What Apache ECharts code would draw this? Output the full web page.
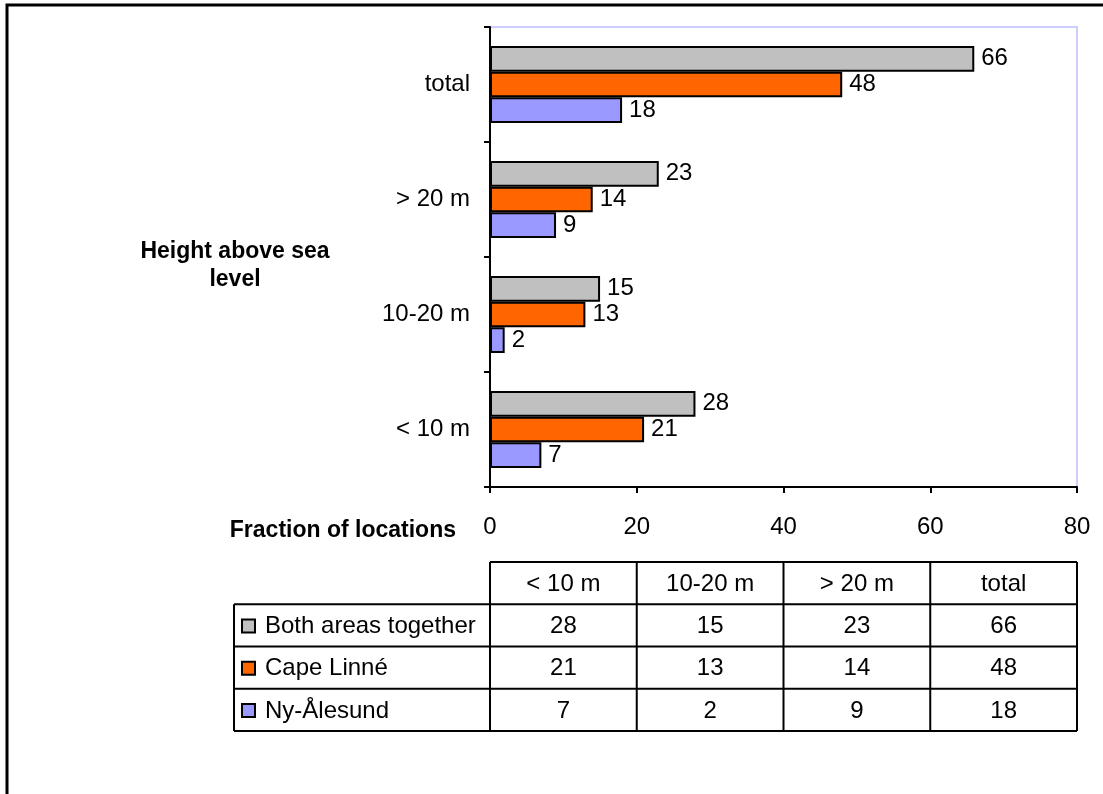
<!DOCTYPE html>
<html>
<head>
<meta charset="utf-8">
<title>Height above sea level – fraction of locations</title>
<script src="https://cdn.jsdelivr.net/npm/echarts@6/dist/echarts.min.js"></script>
<style>
  html, body { margin: 0; padding: 0; background: #fff; }
  #chart { width: 1103px; height: 794px; }
</style>
</head>
<body>
<div id="chart"></div>
<script>
// Height classes (bottom to top on the category axis)
const categories = ['< 10 m', '10-20 m', '> 20 m', 'total'];
// Fraction of locations per height class
const bothAreas = [28, 15, 23, 66];
const capeLinne = [21, 13, 14, 48];
const nyAlesund = [7, 2, 9, 18];
const seriesNames = ['Both areas together', 'Cape Linné', 'Ny-Ålesund'];
const xTicks = { min: 0, max: 80, interval: 20 };

const FONT = "'Liberation Sans', Arial, sans-serif";
const FS = 24;
const colors = { both: '#C0C0C0', cape: '#FF6600', ny: '#9999FF' };

// Plot-area geometry
const G = { left: 490, top: 27, width: 587, height: 460 };

const chart = echarts.init(document.getElementById('chart'));

// ---- data table under the chart -----------------------------------------
const rowsData = [
  { name: seriesNames[0], color: colors.both, values: bothAreas },
  { name: seriesNames[1], color: colors.cape, values: capeLinne },
  { name: seriesNames[2], color: colors.ny, values: nyAlesund }
];
const T = { labelLeft: 234, left: G.left, right: G.left + G.width, top: 562, bottom: 731 };
const rowH = (T.bottom - T.top) / 4;
const colW = (T.right - T.left) / categories.length;
const graphics = [];
const stroke = { stroke: '#000', lineWidth: 2 };
function hline(x1, x2, y) {
  graphics.push({ type: 'line', shape: { x1, y1: y, x2, y2: y }, style: stroke, z: 10 });
}
function vline(x, y1, y2) {
  graphics.push({ type: 'line', shape: { x1: x, y1, x2: x, y2 }, style: stroke, z: 10 });
}
hline(T.left, T.right, T.top);
for (let r = 1; r <= 4; r++) hline(T.labelLeft, T.right, T.top + r * rowH);
vline(T.labelLeft, T.top + rowH, T.bottom);
for (let c = 0; c <= categories.length; c++) vline(T.left + c * colW, T.top, T.bottom);

categories.forEach((cat, c) => {
  graphics.push({
    type: 'text', x: T.left + (c + 0.5) * colW, y: T.top + rowH / 2 + 1, z: 10,
    style: { text: cat, font: `${FS}px ${FONT}`, fill: '#000', align: 'center', verticalAlign: 'middle' }
  });
});
rowsData.forEach((row, r) => {
  const cy = T.top + (r + 1.5) * rowH + 1;
  graphics.push({
    type: 'rect', shape: { x: 242, y: cy - 7, width: 13, height: 13 }, z: 10,
    style: { fill: row.color, stroke: '#000', lineWidth: 2 }
  });
  graphics.push({
    type: 'text', x: 265, y: cy, z: 10,
    style: { text: row.name, font: `${FS}px ${FONT}`, fill: '#000', align: 'left', verticalAlign: 'middle' }
  });
  row.values.forEach((v, c) => {
    graphics.push({
      type: 'text', x: T.left + (c + 0.5) * colW, y: cy, z: 10,
      style: { text: String(v), font: `${FS}px ${FONT}`, fill: '#000', align: 'center', verticalAlign: 'middle' }
    });
  });
});

// ---- axis titles ---------------------------------------------------------
graphics.push({
  type: 'text', x: 235, y: 266, z: 10,
  style: { text: 'Height above sea\nlevel', font: `bold ${FS - 1}px ${FONT}`, lineHeight: 28,
           fill: '#000', align: 'center', verticalAlign: 'middle' }
});
graphics.push({
  type: 'text', x: 456, y: 531, z: 10,
  style: { text: 'Fraction of locations', font: `bold ${FS - 1}px ${FONT}`,
           fill: '#000', align: 'right', verticalAlign: 'middle' }
});

// ---- outer frame ---------------------------------------------------------
graphics.push({
  type: 'rect', shape: { x: 7, y: 5, width: 1200, height: 900 }, z: 0,
  style: { fill: 'none', stroke: '#000', lineWidth: 3 }
});

// ---- bar series (listed top to bottom inside each category) --------------
const barLabel = { show: true, position: 'right', distance: 7, color: '#000',
                   fontFamily: FONT, fontSize: FS };
function bar(name, data, color) {
  return {
    name, type: 'bar', data,
    barGap: '0%', barCategoryGap: '33%',
    itemStyle: { color, borderColor: '#000', borderWidth: 2 },
    label: barLabel,
    emphasis: { disabled: true },
    animation: false
  };
}

chart.setOption({
  animation: false,
  textStyle: { fontFamily: FONT },
  grid: {
    left: G.left, top: G.top, width: G.width, height: G.height,
    containLabel: false, outerBoundsMode: 'none',
    show: true, borderColor: '#CCCCFF', borderWidth: 2, backgroundColor: 'transparent'
  },
  xAxis: {
    type: 'value', min: xTicks.min, max: xTicks.max, interval: xTicks.interval,
    axisLine: { show: true, lineStyle: { color: '#000', width: 2 } },
    axisTick: { show: true, length: 6, lineStyle: { color: '#000', width: 2 } },
    axisLabel: { color: '#000', fontSize: FS, fontFamily: FONT, margin: 28 },
    splitLine: { show: false }
  },
  yAxis: {
    type: 'category', data: categories,
    axisLine: { show: true, lineStyle: { color: '#000', width: 2 } },
    axisTick: { show: true, length: 6, alignWithLabel: false, lineStyle: { color: '#000', width: 2 } },
    axisLabel: { color: '#000', fontSize: FS, fontFamily: FONT, margin: 20 },
    splitLine: { show: false }
  },
  series: [
    bar(seriesNames[0], bothAreas, colors.both),
    bar(seriesNames[1], capeLinne, colors.cape),
    bar(seriesNames[2], nyAlesund, colors.ny)
  ],
  graphic: graphics
});
</script>
</body>
</html>
